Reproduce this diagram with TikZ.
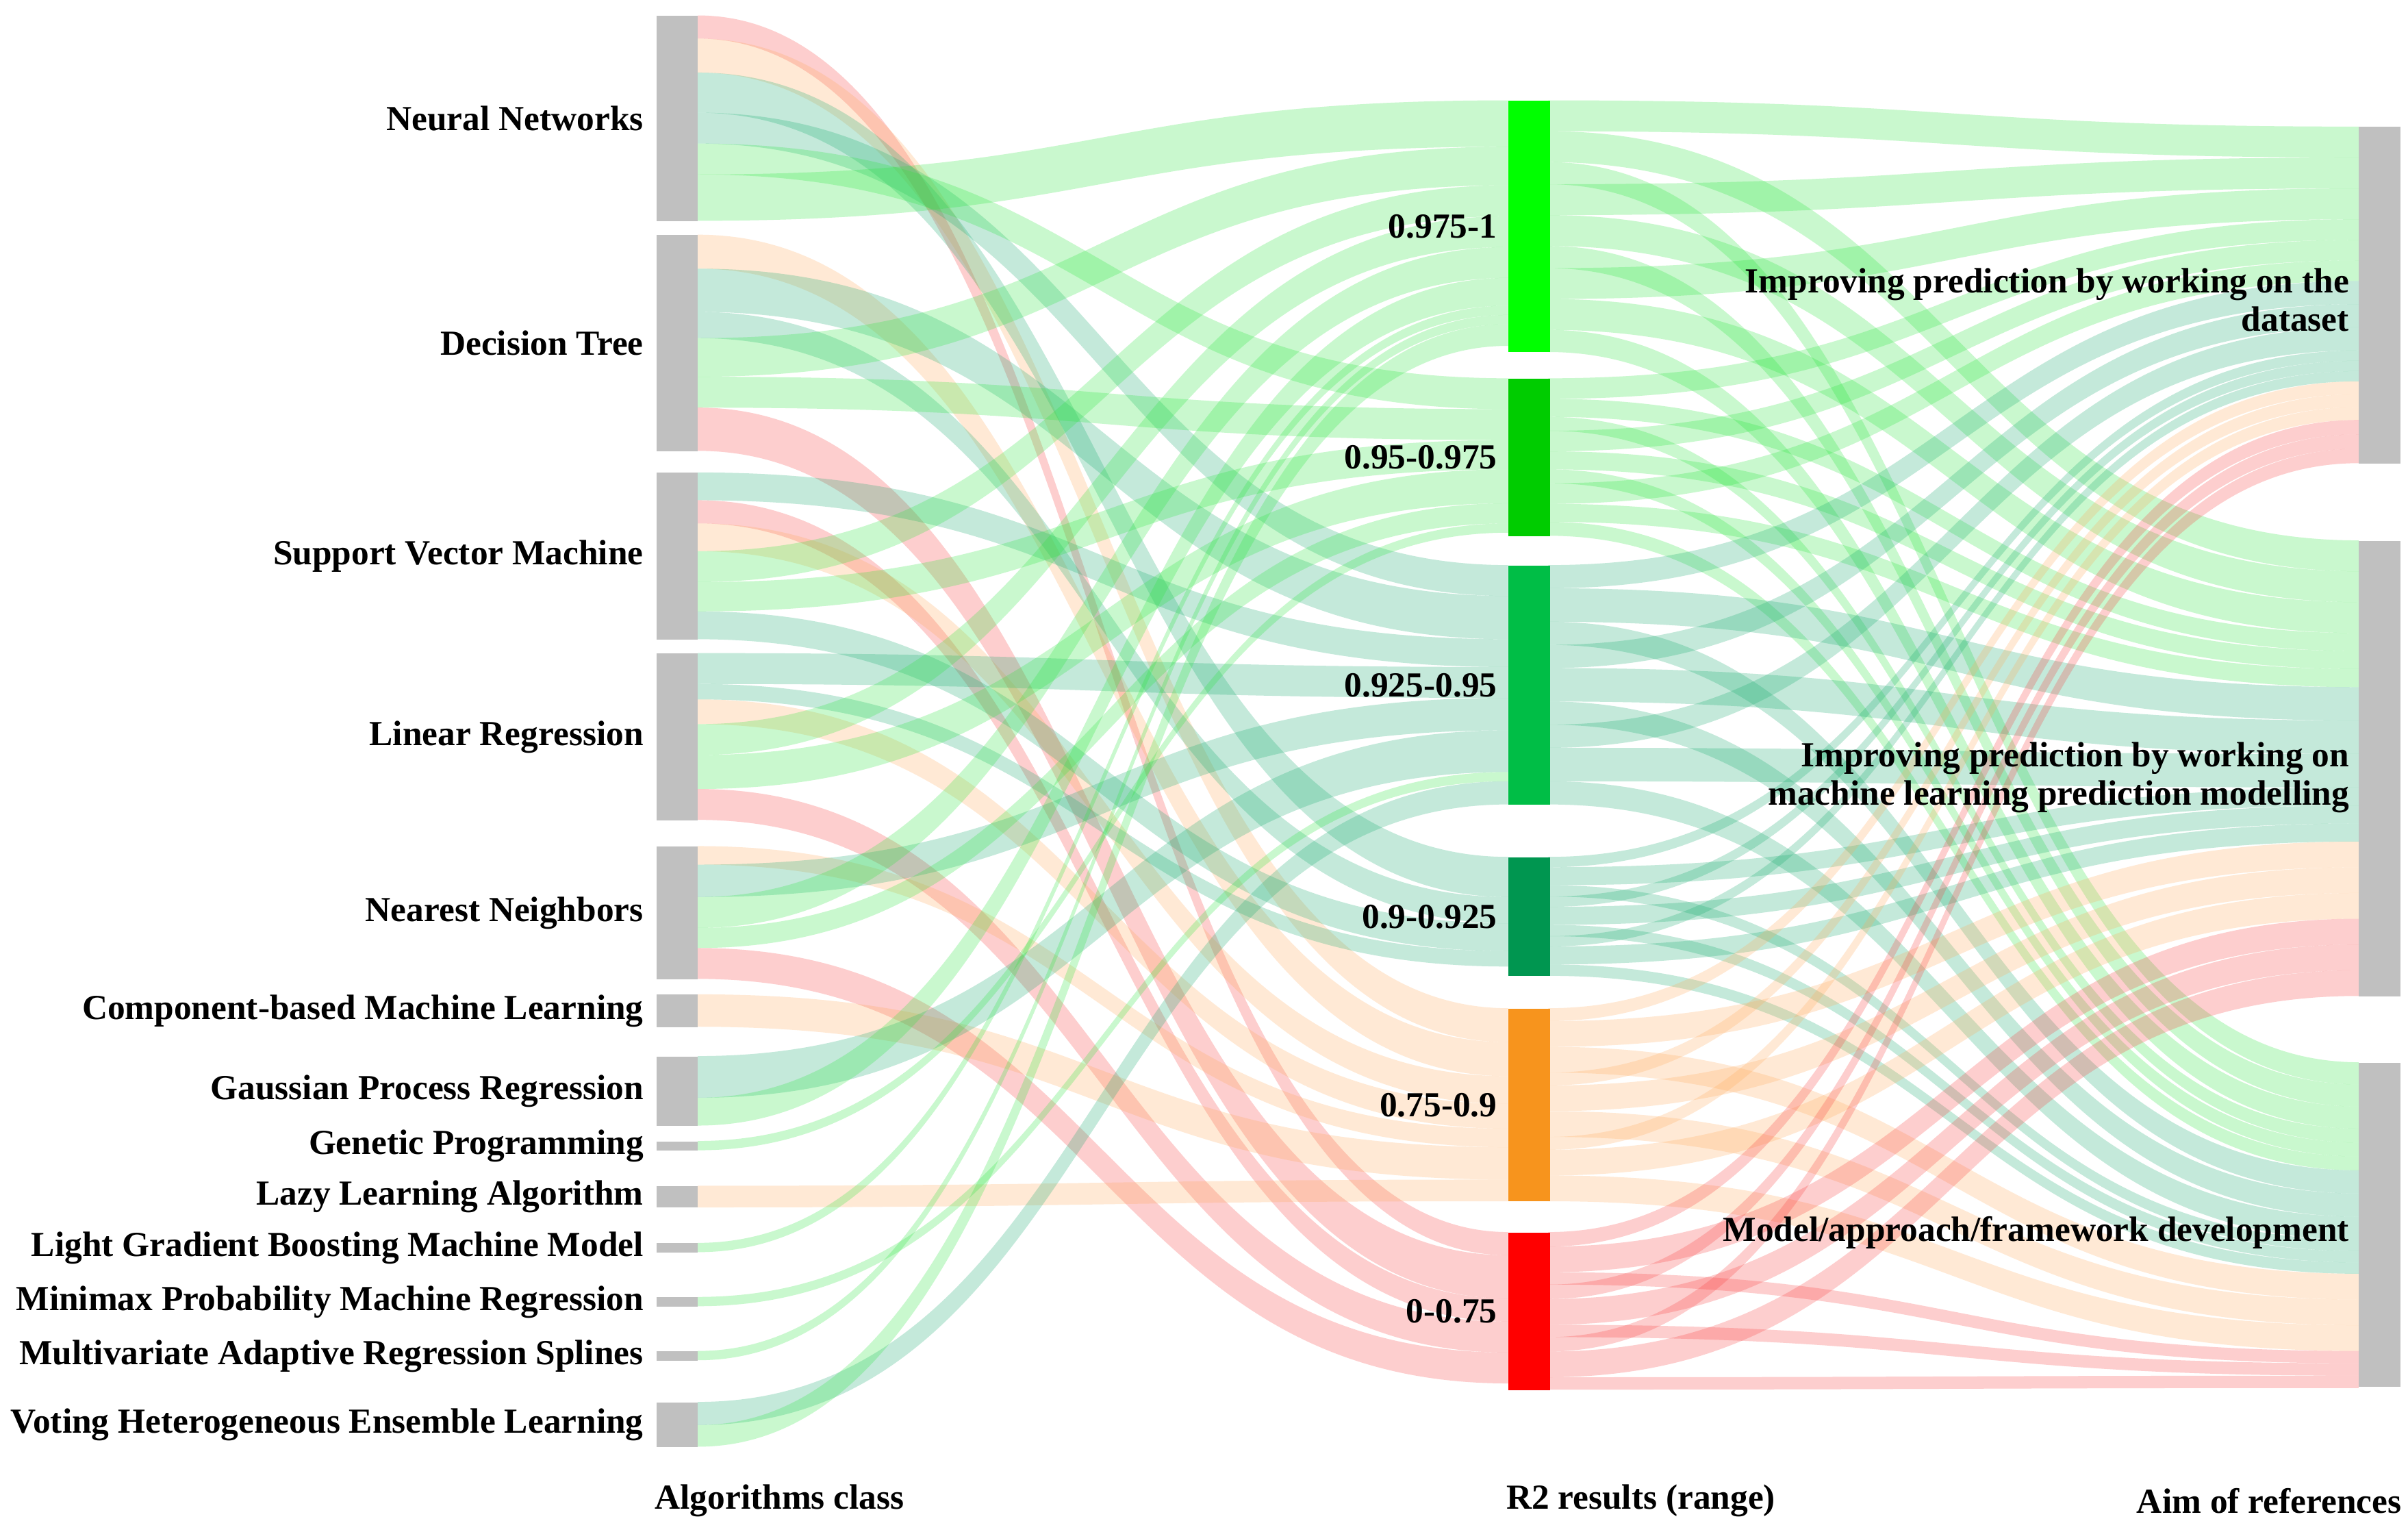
\documentclass[tikz,border=0pt]{standalone}
\usepackage{fontspec}
\setmainfont{Liberation Serif}
\definecolor{c1}{RGB}{0,255,0}
\definecolor{c2}{RGB}{0,204,0}
\definecolor{c3}{RGB}{0,190,70}
\definecolor{c4}{RGB}{0,150,80}
\definecolor{c5}{RGB}{247,148,29}
\definecolor{c6}{RGB}{255,0,0}
\definecolor{f1}{RGB}{40,230,60}
\definecolor{f3}{RGB}{20,170,110}
\definecolor{f5}{RGB}{255,170,90}
\definecolor{f6}{RGB}{250,60,60}
\definecolor{barg}{RGB}{192,192,192}
\newcommand\fl[4]{%
 \pgfmathsetmacro\ya{\csname off#1\endcsname}%
 \pgfmathsetmacro\yb{\csname off#2\endcsname}%
 \pgfmathsetmacro\yaa{\ya+#3}%
 \pgfmathsetmacro\ybb{\yb+#3}%
 \expandafter\xdef\csname off#1\endcsname{\yaa}%
 \expandafter\xdef\csname off#2\endcsname{\ybb}%
 \pgfmathsetmacro\xa{\csname xo#1\endcsname}%
 \pgfmathsetmacro\xb{\csname xi#2\endcsname}%
 \pgfmathsetmacro\xm{(\xa+\xb)/2}%
 \fill[#4,opacity=.25] (\xa,\ya) .. controls (\xm,\ya) and (\xm,\yb) .. (\xb,\yb) -- (\xb,\ybb) .. controls (\xm,\ybb) and (\xm,\yaa) .. (\xa,\yaa) -- cycle;}
\newcommand\setnode[3]{\expandafter\xdef\csname off#1\endcsname{#2}\expandafter\xdef\csname xo#1\endcsname{#3}}
\begin{document}
\begin{tikzpicture}[x=1pt,y=-1pt,
  bar/.style={fill=barg,draw=none,inner sep=0,minimum width=27pt,anchor=north west},
  lab/.style={font=\fontsize{22.8}{25}\selectfont\bfseries,inner sep=0},
  labl/.style={lab,anchor=east},
  labr/.style={lab,anchor=east,align=right}]
\useasboundingbox[fill=white] (0,0) rectangle (1560,992);
% left nodes
\foreach \n/\t/\xx in {a/10/452,b/152/452,c/306/452,d/423/452,e/548/452,f/644/452,g/684/452,h/739/452,i/768/452,j/805/452,k/840/452,l/875/452,m/908/452}{\setnode{\n}{\t}{\xx}}
% middle: in-side (lowercase) and out-side (uppercase)
\foreach \n/\N/\t in {p/P/65,q/Q/245,r/R/366,s/S/555,t/T/653,u/U/798}{\setnode{\n}{\t}{1003}\expandafter\xdef\csname xi\n\endcsname{977}\setnode{\N}{\t}{1003}}
\foreach \n/\t in {x/82,y/350,z/688}{\setnode{\n}{\t}{1555}\expandafter\xdef\csname xi\n\endcsname{1528}}
% left -> middle flows
\fl{a}{u}{15}{f6}\fl{a}{t}{22}{f5}\fl{a}{s}{26}{f3}\fl{a}{r}{20}{f3}\fl{a}{q}{20}{f1}\fl{a}{p}{30}{f1}
\fl{b}{t}{22}{f5}\fl{b}{r}{28}{f3}\fl{b}{s}{17}{f3}\fl{b}{p}{25}{f1}\fl{b}{q}{20}{f1}\fl{b}{u}{28}{f6}
\fl{c}{r}{18}{f3}\fl{c}{u}{15}{f6}\fl{c}{t}{18}{f5}\fl{c}{p}{20}{f1}\fl{c}{q}{19}{f1}\fl{c}{s}{18}{f3}
\fl{d}{r}{20}{f3}\fl{d}{s}{10}{f3}\fl{d}{t}{16}{f5}\fl{d}{p}{20}{f1}\fl{d}{q}{22}{f1}\fl{d}{u}{20}{f6}
\fl{e}{t}{12}{f5}\fl{e}{r}{21}{f3}\fl{e}{p}{20}{f1}\fl{e}{q}{13}{f1}\fl{e}{u}{20}{f6}
\fl{f}{t}{21}{f5}
\fl{g}{r}{27}{f3}\fl{g}{p}{18}{f1}
\fl{h}{q}{6}{f1}
\fl{i}{t}{14}{f5}
\fl{j}{p}{6}{f1}
\fl{k}{r}{6}{f1}
\fl{l}{p}{6}{f1}
\fl{m}{r}{15}{f3}\fl{m}{p}{14}{f1}
% middle -> right flows
\foreach \mm/\va/\vb/\vc/\col in {P/20/20/14.33/f1,Q/13.33/11.67/9/f1,R/15/21.67/15/f3,S/6.67/11.67/7.33/f3,T/8.33/16.67/16.67/f5,U/9.33/16.67/8/f6}{
  \foreach \k in {1,2,3}{\fl{\mm}{x}{\va}{\col}\fl{\mm}{y}{\vb}{\col}\fl{\mm}{z}{\vc}{\col}}}
% bars
\node[bar,minimum height=133pt] (nn) at (425,10) {};
\node[bar,minimum height=140pt] (dt) at (425,152) {};
\node[bar,minimum height=108pt] (svm) at (425,306) {};
\node[bar,minimum height=108pt] (lr) at (425,423) {};
\node[bar,minimum height=86pt] (knn) at (425,548) {};
\node[bar,minimum height=21pt] (cb) at (425,644) {};
\node[bar,minimum height=45pt] (gpr) at (425,684) {};
\node[bar,minimum height=6pt] (gp) at (425,739) {};
\node[bar,minimum height=14pt] (lazy) at (425,768) {};
\node[bar,minimum height=6pt] (lgb) at (425,805) {};
\node[bar,minimum height=6pt] (mpm) at (425,840) {};
\node[bar,minimum height=6pt] (mars) at (425,875) {};
\node[bar,minimum height=29pt] (vot) at (425,908) {};
\node[bar,fill=c1,minimum height=163pt] (m1) at (977,65) {};
\node[bar,fill=c2,minimum height=102pt] (m2) at (977,245) {};
\node[bar,fill=c3,minimum height=155pt] (m3) at (977,366) {};
\node[bar,fill=c4,minimum height=77pt] (m4) at (977,555) {};
\node[bar,fill=c5,minimum height=125pt] (m5) at (977,653) {};
\node[bar,fill=c6,minimum height=102pt] (m6) at (977,798) {};
\node[bar,minimum height=218pt] (r1) at (1528,82) {};
\node[bar,minimum height=295pt] (r2) at (1528,350) {};
\node[bar,minimum height=210pt] (r3) at (1528,688) {};
% labels
\foreach \nd/\tx in {nn/Neural Networks,dt/Decision Tree,svm/Support Vector Machine,lr/Linear Regression,knn/Nearest Neighbors,cb/Component-based Machine Learning,gpr/Gaussian Process Regression,gp/Genetic Programming,lazy/Lazy Learning Algorithm,lgb/Light Gradient Boosting Machine Model,mpm/Minimax Probability Machine Regression,mars/Multivariate Adaptive Regression Splines,vot/Voting Heterogeneous Ensemble Learning}
  {\node[labl] at ([xshift=-8pt]\nd.west) {\tx};}
\foreach \nd/\tx in {m1/0.975-1,m2/0.95-0.975,m3/0.925-0.95,m4/0.9-0.925,m5/0.75-0.9,m6/0-0.75}
  {\node[labl] at ([xshift=-7pt]\nd.west) {\tx};}
\node[labr] (t1) at ([xshift=-6pt,yshift=-3pt]r1.west) {Improving prediction by working on the\\dataset};
\node[labr] (t2) at ([xshift=-6pt,yshift=-6pt]r2.west) {Improving prediction by working on\\machine learning prediction modelling};
\node[labr] (t3) at ([xshift=-6pt,yshift=-5pt]r3.west) {Model/approach/framework development};
\node[lab] (h1) at (505,972) {Algorithms class};
\node[lab] (h2) at (1063,972) {R2 results (range)};
\node[lab] (h3) at (1470,972) {Aim of references};
\end{tikzpicture}
\end{document}
